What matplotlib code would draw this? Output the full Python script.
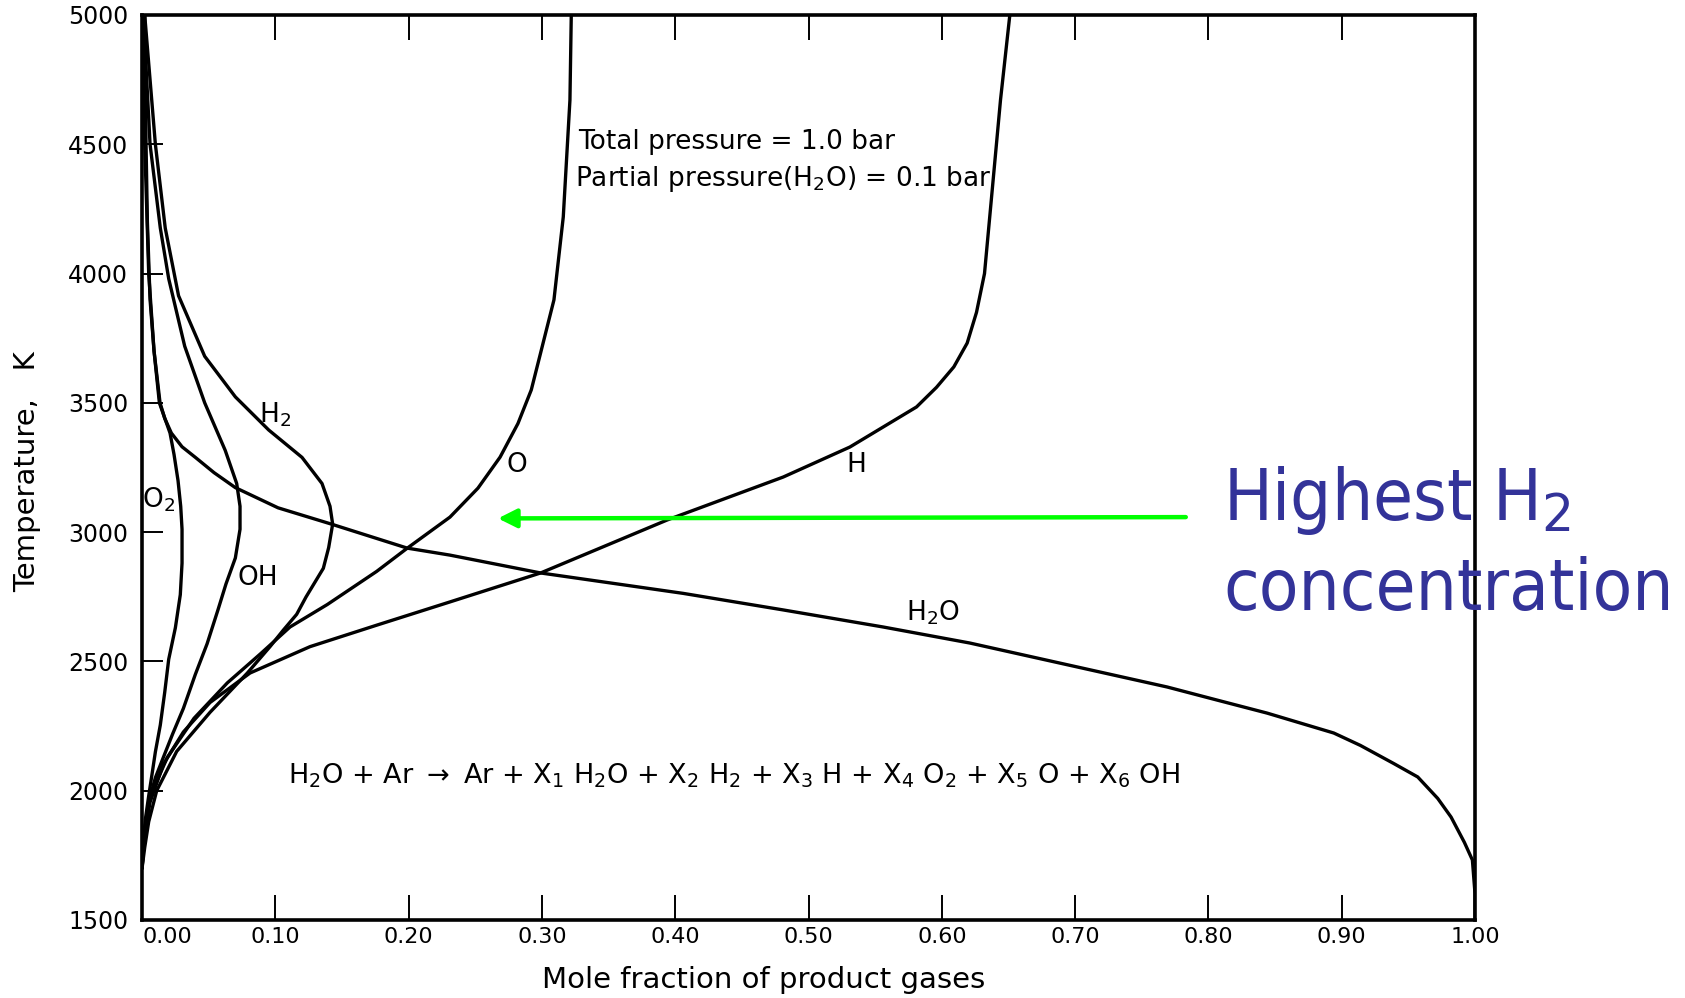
import matplotlib
matplotlib.use("Agg")
import matplotlib.pyplot as plt

plt.rcParams['font.family'] = ['DejaVu Sans']
plt.rcParams['mathtext.fontset'] = 'dejavusans'

# Equilibrium composition of H2O/Ar products vs temperature (mole fraction, K)
h2o_T = [5000, 4500, 4200, 3900, 3700, 3500, 3440, 3383, 3330, 3289, 3230, 3172, 3094,
         3031, 2938, 2911, 2842, 2763, 2699, 2633, 2571, 2517, 2401, 2351, 2300, 2223,
         2175, 2105, 2053, 1970, 1898, 1800, 1732, 1600, 1500]
h2o_x = [0.002, 0.003, 0.004, 0.006, 0.009, 0.0135, 0.017, 0.022, 0.030, 0.040, 0.054, 0.070,
         0.102, 0.142, 0.199, 0.231, 0.299, 0.406, 0.481, 0.556, 0.621, 0.668, 0.769, 0.806,
         0.844, 0.894, 0.914, 0.939, 0.957, 0.972, 0.982, 0.992, 0.998, 1.0, 1.0]

o2_T = [5000, 4500, 4000, 3700, 3500, 3383, 3300, 3199, 3100, 3011, 2880, 2758, 2630,
        2508, 2380, 2254, 2150, 2064, 1980, 1890, 1800, 1700]
o2_x = [0.001, 0.002, 0.005, 0.009, 0.013, 0.021, 0.024, 0.027, 0.029, 0.030, 0.030, 0.0287,
        0.025, 0.020, 0.017, 0.0137, 0.010, 0.0075, 0.005, 0.0025, 0.001, 0.0]

oh_T = [5000, 4500, 4176, 3980, 3719, 3500, 3316, 3188, 3100, 3011, 2900, 2800, 2700,
        2568, 2450, 2318, 2220, 2129, 2050, 1977, 1850, 1720]
oh_x = [0.001, 0.006, 0.0137, 0.020, 0.032, 0.047, 0.0624, 0.071, 0.0735, 0.0735, 0.070,
        0.063, 0.057, 0.0488, 0.040, 0.031, 0.023, 0.016, 0.010, 0.006, 0.002, 0.0]

h2_T = [5000, 4500, 4176, 3914, 3680, 3523, 3395, 3289, 3188, 3100, 3031, 2940, 2860,
        2749, 2682, 2621, 2557, 2455, 2303, 2152, 2000, 1880, 1780, 1700]
h2_x = [0.002, 0.010, 0.0174, 0.0274, 0.047, 0.070, 0.095, 0.120, 0.135, 0.141, 0.143,
        0.140, 0.136, 0.123, 0.116, 0.106, 0.096, 0.079, 0.051, 0.026, 0.011, 0.005, 0.002, 0.0]

o_T = [1700, 1850, 1977, 2129, 2280, 2417, 2530, 2633, 2720, 2848, 2938, 3058, 3170,
       3290, 3420, 3550, 3693, 3898, 4219, 4671, 5000]
o_x = [0.0, 0.002, 0.006, 0.019, 0.039, 0.064, 0.089, 0.111, 0.139, 0.176, 0.199, 0.231,
       0.252, 0.2686, 0.282, 0.292, 0.299, 0.309, 0.316, 0.321, 0.322]

h_T = [1700, 1830, 1955, 2102, 2227, 2341, 2455, 2557, 2640, 2730, 2842, 3047, 3213,
       3329, 3484, 3560, 3639, 3731, 3850, 4000, 4335, 4671, 5000]
h_x = [0.0, 0.002, 0.006, 0.016, 0.031, 0.051, 0.081, 0.126, 0.176, 0.231, 0.299, 0.394,
       0.481, 0.531, 0.581, 0.596, 0.609, 0.619, 0.626, 0.632, 0.638, 0.644, 0.651]

x_ticks = [0.0, 0.1, 0.2, 0.3, 0.4, 0.5, 0.6, 0.7, 0.8, 0.9, 1.0]
x_tick_labels = ["0.00", "0.10", "0.20", "0.30", "0.40", "0.50", "0.60", "0.70",
                 "0.80", "0.90", "1.00"]
y_ticks = [1500, 2000, 2500, 3000, 3500, 4000, 4500, 5000]
y_tick_labels = ["1500", "2000", "2500", "3000", "3500", "4000", "4500", "5000"]

# species labels: (text, x, T)
species_labels = [
    ("H$_2$", 0.100, 3453),
    ("O$_2$", 0.012, 3124),
    ("OH", 0.087, 2822),
    ("O", 0.281, 3260),
    ("H", 0.536, 3260),
    ("H$_2$O", 0.593, 2687),
]

# arrow pointing at the region of highest H2 concentration
arrow_tail = (0.783, 3058)
arrow_head = (0.267, 3053)

fig = plt.figure(figsize=(16.85, 9.98), dpi=100)
ax = fig.add_axes([0.0843, 0.0782, 0.7911, 0.9068])
ax.set_xlim(0, 1)
ax.set_ylim(1500, 5000)

line_kw = dict(color="black", lw=2.4, solid_capstyle="round", solid_joinstyle="round")
for xs, ts in [(h2o_x, h2o_T), (o2_x, o2_T), (oh_x, oh_T), (h2_x, h2_T), (o_x, o_T), (h_x, h_T)]:
    ax.plot(xs, ts, **line_kw)

for sp in ax.spines.values():
    sp.set_linewidth(2.6)
    sp.set_color("black")

ax.set_xticks(x_ticks)
ax.set_xticklabels(x_tick_labels, fontsize=16)
ax.set_yticks(y_ticks)
ax.set_yticklabels(y_tick_labels, fontsize=17)
ax.tick_params(axis="x", which="both", direction="in", length=18, width=1.4,
               top=True, bottom=True, pad=5)
ax.tick_params(axis="y", which="both", direction="in", length=15, width=1.4,
               left=True, right=False, pad=10)
first = ax.get_xticklabels()[0]
first.set_horizontalalignment("left")

for text, xv, tv in species_labels:
    ax.text(xv, tv, text, fontsize=19, ha="center", va="center")

ax.text(0.327, 4480, "Total pressure = 1.0 bar", fontsize=19, ha="left", va="baseline")
ax.text(0.325, 4340, "Partial pressure(H$_2$O) = 0.1 bar", fontsize=19, ha="left",
        va="baseline")
ax.text(0.1095, 2057,
        r"H$_2$O + Ar $\rightarrow$ Ar + X$_1$ H$_2$O + X$_2$ H$_2$ + X$_3$ H + X$_4$ O$_2$ + X$_5$ O + X$_6$ OH",
        fontsize=19.5, ha="left", va="center")

ax.annotate("", xy=arrow_head, xytext=arrow_tail,
            arrowprops=dict(arrowstyle="-|>", color="#00ff00", lw=3.2,
                            mutation_scale=28, shrinkA=0, shrinkB=0))

fig.text(0.016, 0.527, "Temperature,   K", rotation=90, fontsize=21, ha="center",
         va="center")
fig.text(0.453, 0.018, "Mole fraction of product gases", fontsize=21, ha="center",
         va="center")

note_kw = dict(color="#333399", fontsize=52, ha="left", va="baseline", zorder=10,
               fontstretch="condensed")
fig.text(0.726, 0.479, "Highest H$_2$", **note_kw)
fig.text(0.726, 0.389, "concentration", **note_kw)

fig.savefig("out.png", dpi=100)
